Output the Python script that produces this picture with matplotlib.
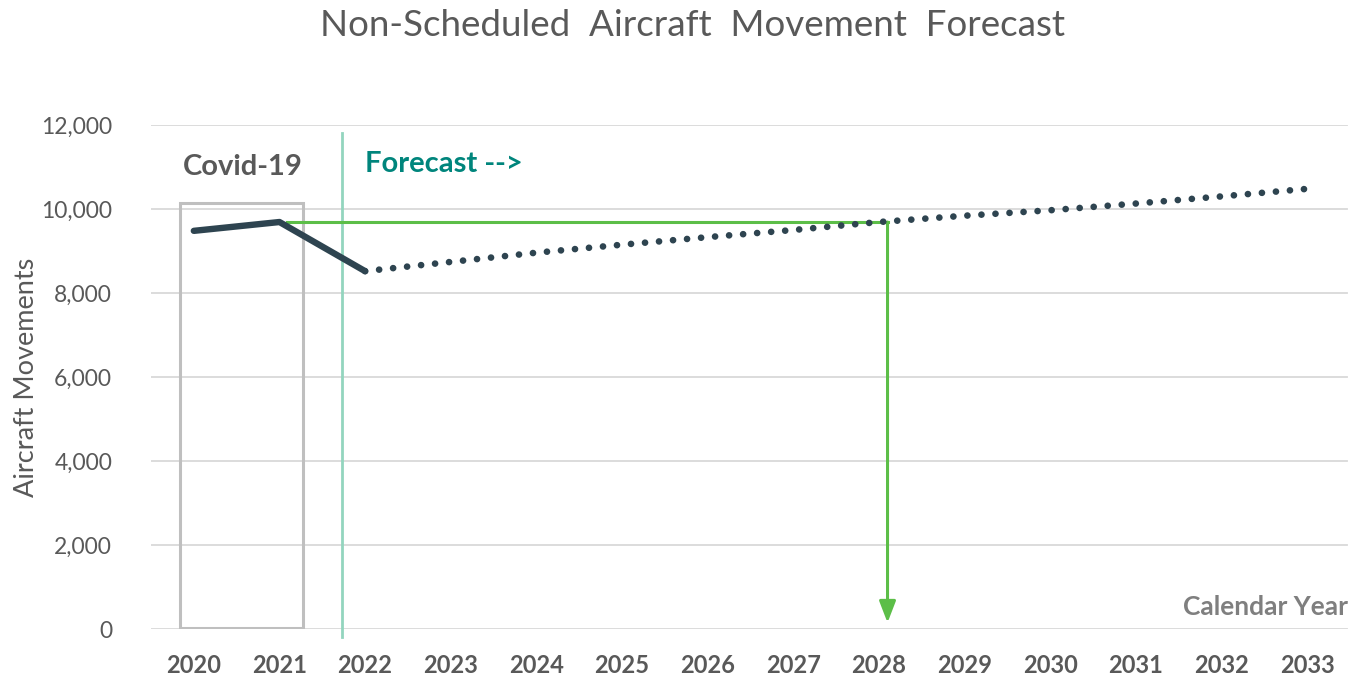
import matplotlib
matplotlib.use("Agg")
import matplotlib.pyplot as plt
from matplotlib.ticker import FuncFormatter
from matplotlib.patches import Rectangle

plt.rcParams['font.family'] = ['Lato', 'DejaVu Sans']

years = ["2020", "2021", "2022", "2023", "2024", "2025", "2026", "2027",
         "2028", "2029", "2030", "2031", "2032", "2033"]
actual = [9480, 9690, 8520]
forecast = [8520, 8740, 8960, 9150, 9330, 9500, 9690, 9840, 9970, 10130, 10300, 10480]
y_ticks = [0, 2000, 4000, 6000, 8000, 10000, 12000]
ref_value = 9690

W, H = 1353, 676
fig = plt.figure(figsize=(W / 100, H / 100), dpi=100)
ax = fig.add_axes([151 / W, 1 - 629 / H, (1350 - 151) / W, (629 - 125) / H])

x = list(range(len(years)))
ax.set_xlim(-0.5, len(years) - 0.5)
ax.set_ylim(0, 12000)

for t in y_ticks:
    ax.plot([-0.5, 13.47], [t, t], color='#D9D9D9', lw=1.3, zorder=0)

dark = '#2E4450'
ax.plot(x[:3], actual, color=dark, lw=4.6, solid_capstyle='round', solid_joinstyle='round', zorder=4)
ax.plot(x[2:], forecast, color=dark, lw=4.8, linestyle=(0, (0.01, 2.1)), dash_capstyle='round', zorder=4)

# Covid box
ax.add_patch(Rectangle((-0.16, 15), 1.43, 10140 - 15, fill=False, edgecolor='#BFBFBF', lw=2.2, zorder=2))
# forecast divider
ax.plot([1.73, 1.73], [-200, 11800], color='#93D5BE', lw=2.0, clip_on=False, zorder=3)

green = '#5CBE48'
ax.plot([1.09, 8.1], [ref_value, ref_value], color=green, lw=2.2, zorder=3)
ax.annotate('', xy=(8.1, 150), xytext=(8.1, ref_value),
            arrowprops=dict(arrowstyle='-|>,head_width=0.5,head_length=1.3', color=green, lw=2.2,
                            shrinkA=0, shrinkB=0), zorder=3)

ax.text(0.57, 11000, 'Covid-19', color='#595959', fontsize=21, fontweight='bold', ha='center', va='center')
ax.text(2.0, 11060, 'Forecast -->', color='#00857C', fontsize=21, fontweight='bold', ha='left', va='center')
fig.text(1348 / W, 1 - 607 / H, 'Calendar Year', color='#7F7F7F', fontsize=19, fontweight='bold', ha='right', va='center')

ax.set_xticks(x)
ax.set_xticklabels(years, fontsize=17, fontweight='bold', color='#595959')
ax.set_yticks(y_ticks)
ax.yaxis.set_major_formatter(FuncFormatter(lambda v, p: f"{int(v):,}"))
for lab in ax.get_yticklabels():
    lab.set_fontsize(16.5)
    lab.set_color('#595959')
ax.tick_params(axis='both', length=0)
ax.tick_params(axis='x', pad=18)
ax.tick_params(axis='y', pad=28)
for s in ax.spines.values():
    s.set_visible(False)

ax.set_ylabel('Aircraft Movements', fontsize=19.5, color='#595959')
ax.yaxis.set_label_coords((39 - 151) / 1199, 0.5)
fig.text(693 / W, 1 - 25 / H, 'Non-Scheduled  Aircraft  Movement  Forecast', color='#595959',
         fontsize=26.5, ha='center', va='center')

fig.savefig('out.png', dpi=100)
